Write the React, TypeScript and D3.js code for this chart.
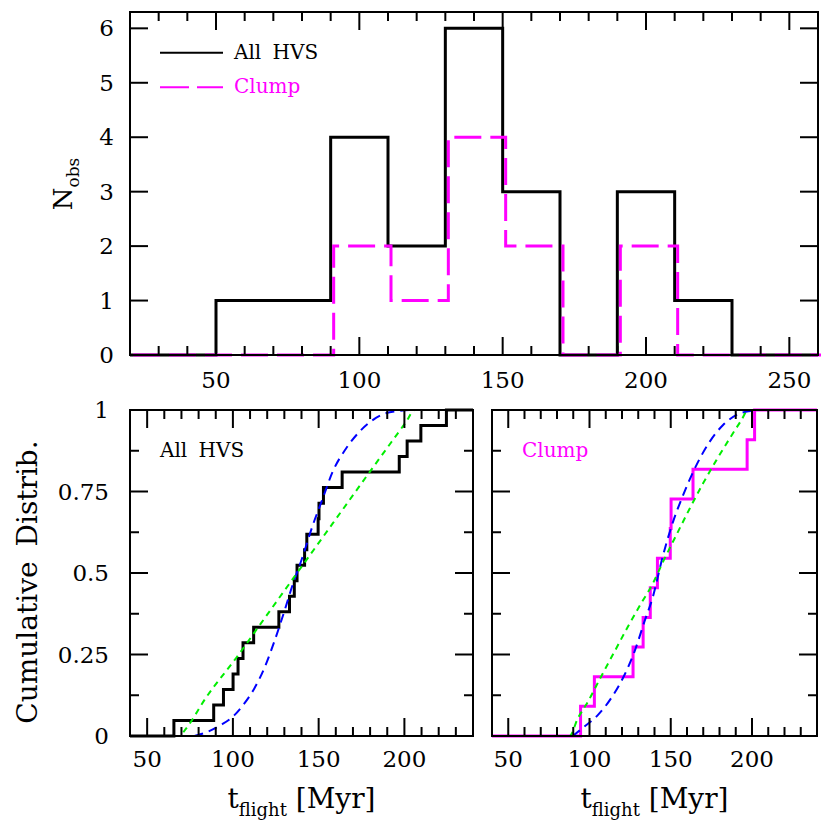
import React from 'react';
import * as d3 from 'd3';

// ---------- data ----------
const histEdges = [50, 70, 90, 110, 130, 150, 170, 190, 210, 230];
const histAll = [1, 1, 4, 2, 6, 3, 0, 3, 1];
const histClump = [0, 0, 2, 1, 4, 2, 0, 2, 0];

const tflightAll = [65.6, 88.8, 94.5, 100.1, 103, 105.9, 112.1, 126.8, 133, 135.8, 137.4,
  141.8, 143.1, 149.7, 150.2, 152.8, 163.7, 197, 201.6, 209.6, 224.5];
const tflightClump = [94.5, 103, 126.8, 133, 137.4, 141.8, 149.7, 150.2, 163.7, 197, 201.6];

const blueAllX = [77.6, 85.3, 93.1, 100.9, 106.7, 112.5, 118.3, 124.1, 129.9, 134.8, 140.2, 146.6, 152.4, 158.2, 166, 173.7, 181.5, 189.2, 197, 204.7, 240];
const blueAllY = [0, 0.013, 0.034, 0.064, 0.1, 0.146, 0.208, 0.289, 0.381, 0.463, 0.543, 0.647, 0.729, 0.811, 0.882, 0.933, 0.969, 0.99, 0.997, 1, 1];
const greenAllX = [40, 69, 72, 84.6, 102, 115.6, 137, 158.2, 179.5, 200.9, 206, 240];
const greenAllY = [0, 0, 0.018, 0.12, 0.24, 0.34, 0.497, 0.652, 0.808, 0.963, 1, 1];

const blueClumpX = [89.7, 96.9, 105.1, 113.3, 121.5, 127.7, 133.8, 139, 145.3, 151.4, 157.6, 165.8, 174, 182.2, 190.5, 198.6, 202, 240];
const blueClumpY = [0, 0.029, 0.064, 0.116, 0.187, 0.259, 0.351, 0.427, 0.555, 0.657, 0.739, 0.831, 0.903, 0.954, 0.985, 0.997, 1, 1];
const greenClumpX = [40, 87.7, 92.8, 99, 107.1, 115.4, 123.6, 131.8, 139, 145.3, 153.5, 161.7, 169.9, 178.2, 186.3, 193.5, 197.6, 240];
const greenClumpY = [0, 0, 0.054, 0.105, 0.182, 0.259, 0.335, 0.407, 0.468, 0.535, 0.617, 0.698, 0.775, 0.847, 0.913, 0.969, 1, 1];

const histXTicks = [50, 100, 150, 200, 250];
const histYTicks = [0, 1, 2, 3, 4, 5, 6];
const cdfXTicks = [50, 100, 150, 200];
const cdfYTicks = [0, 0.25, 0.5, 0.75, 1];
const cdfYTickLabels = ['0', '0.25', '0.5', '0.75', '1'];

const FONT = "'DejaVu Serif', serif";
const MAGENTA = '#ff00ff';
const BLUE = '#0000ff';
const GREEN = '#00ee00';

type Scale = d3.ScaleLinear<number, number>;

function Frame({ x, y, xMinor, xMajor, yMinor, yMajor }:
  { x: Scale; y: Scale; xMinor: number[]; xMajor: number[]; yMinor: number[]; yMajor: number[] }) {
  const [x0, x1] = x.range();
  const [yb, yt] = y.range();
  const els: any[] = [];
  xMinor.forEach((v, i) => {
    const len = xMajor.some(m => Math.abs(m - v) < 1e-9) ? 18 : 9;
    const p = x(v);
    els.push(<line key={'xb' + i} x1={p} x2={p} y1={yb} y2={yb - len} />);
    els.push(<line key={'xt' + i} x1={p} x2={p} y1={yt} y2={yt + len} />);
  });
  yMinor.forEach((v, i) => {
    const len = yMajor.some(m => Math.abs(m - v) < 1e-9) ? 18 : 9;
    const p = y(v);
    els.push(<line key={'yl' + i} x1={x0} x2={x0 + len} y1={p} y2={p} />);
    els.push(<line key={'yr' + i} x1={x1} x2={x1 - len} y1={p} y2={p} />);
  });
  return (
    <g stroke="#000" strokeWidth={2} fill="none">
      {els}
      <rect x={x0} y={yt} width={x1 - x0} height={yb - yt} />
    </g>
  );
}

function stepPoints(edges: number[], counts: number[], lo: number, hi: number): [number, number][] {
  const pts: [number, number][] = [[lo, 0]];
  counts.forEach((c, i) => pts.push([edges[i], c]));
  pts.push([edges[edges.length - 1], 0]);
  pts.push([hi, 0]);
  return pts;
}

function cdfPoints(vals: number[], lo: number, hi: number): [number, number][] {
  const n = vals.length;
  const pts: [number, number][] = [[lo, 0]];
  vals.forEach((v, i) => pts.push([v, (i + 1) / n]));
  pts.push([hi, 1]);
  return pts;
}

function CdfPanel({ x, y, vals, stepColor, blueX, blueY, greenX, greenY, label, labelColor, showY }:
  any) {
  const step = d3.line<[number, number]>().x(d => x(d[0])).y(d => y(d[1])).curve(d3.curveStepAfter);
  const smooth = d3.line<[number, number]>().x(d => x(d[0])).y(d => y(d[1])).curve(d3.curveMonotoneX);
  const bluePts = blueX.map((v: number, i: number) => [v, blueY[i]] as [number, number]);
  const greenPts = greenX.map((v: number, i: number) => [v, greenY[i]] as [number, number]);
  const [x0, x1] = x.range();
  return (
    <g>
      <path d={step(cdfPoints(vals, 40, 240)) || ''} fill="none" stroke={stepColor} strokeWidth={3} />
      <path d={smooth(bluePts) || ''} fill="none" stroke={BLUE} strokeWidth={2} strokeDasharray="9 6" />
      <path d={smooth(greenPts) || ''} fill="none" stroke={GREEN} strokeWidth={2} strokeDasharray="6 5" />
      <Frame x={x} y={y} xMinor={d3.range(40, 240.1, 10)} xMajor={cdfXTicks}
        yMinor={d3.range(0, 1.0001, 0.125)} yMajor={cdfYTicks} />
      {cdfXTicks.map(t => (
        <text key={'xl' + t} x={x(t)} y={767} textAnchor="middle" fontSize={23} fontFamily={FONT}>{t}</text>
      ))}
      {showY && cdfYTicks.map((t, i) => (
        <text key={'yl' + t} x={109} y={y(t) + 8} textAnchor="end" fontSize={23} fontFamily={FONT}>{cdfYTickLabels[i]}</text>
      ))}
      <text x={x0 + 30} y={457} fontSize={20} fontFamily={FONT} fill={labelColor} wordSpacing={5}>{label}</text>
      <text x={(x0 + x1) / 2} y={808} textAnchor="middle" fontSize={28} fontFamily={FONT}>
        t<tspan fontSize={18} dy={8}>flight</tspan><tspan dy={-8}> [Myr]</tspan>
      </text>
    </g>
  );
}

export default function App() {
  const xTop = d3.scaleLinear().domain([20, 260]).range([130, 818]);
  const yTop = d3.scaleLinear().domain([0, 6.3]).range([355, 12]);
  const xL = d3.scaleLinear().domain([40, 240]).range([130, 473]);
  const xR = d3.scaleLinear().domain([40, 240]).range([492, 817]);
  const yB = d3.scaleLinear().domain([0, 1]).range([736, 410]);

  const hist = d3.line<[number, number]>().x(d => xTop(d[0])).y(d => yTop(d[1])).curve(d3.curveStepAfter);

  return (
    <svg width={830} height={829} style={{ position: 'absolute', left: 0, top: 0, background: '#fff' }}>
      <rect width={830} height={829} fill="#fff" />
      {/* Top histogram */}
      <path d={hist(stepPoints(histEdges, histAll, 20, 260)) || ''} fill="none" stroke="#000" strokeWidth={3} />
      <path d={hist(stepPoints(histEdges, histClump, 20, 260)) || ''} fill="none" stroke={MAGENTA} strokeWidth={3}
        strokeDasharray="27 9" transform="translate(3,0)" />
      <Frame x={xTop} y={yTop} xMinor={d3.range(20, 260.1, 10)} xMajor={histXTicks}
        yMinor={histYTicks} yMajor={histYTicks} />
      {histXTicks.map(t => (
        <text key={'hx' + t} x={xTop(t)} y={388} textAnchor="middle" fontSize={23} fontFamily={FONT}>{t}</text>
      ))}
      {histYTicks.map(t => (
        <text key={'hy' + t} x={114} y={yTop(t) + 8} textAnchor="end" fontSize={23} fontFamily={FONT}>{t}</text>
      ))}
      {/* legend */}
      <line x1={160} x2={223} y1={52.7} y2={52.7} stroke="#000" strokeWidth={2} />
      <text x={234} y={58.5} fontSize={20} fontFamily={FONT} wordSpacing={5}>All HVS</text>
      <line x1={160} x2={223} y1={87.3} y2={87.3} stroke={MAGENTA} strokeWidth={2} strokeDasharray="29 8" />
      <text x={234} y={92.7} fontSize={20} fontFamily={FONT} fill={MAGENTA}>Clump</text>
      <text transform="translate(72,184) rotate(-90)" textAnchor="middle" fontSize={26} fontFamily={FONT}>
        N<tspan fontSize={17} dy={7}>obs</tspan>
      </text>

      {/* bottom panels */}
      <CdfPanel x={xL} y={yB} vals={tflightAll} stepColor="#000" blueX={blueAllX} blueY={blueAllY}
        greenX={greenAllX} greenY={greenAllY} label="All HVS" labelColor="#000" showY={true} />
      <CdfPanel x={xR} y={yB} vals={tflightClump} stepColor={MAGENTA} blueX={blueClumpX} blueY={blueClumpY}
        greenX={greenClumpX} greenY={greenClumpY} label="Clump" labelColor={MAGENTA} showY={false} />
      <text transform="translate(37,582) rotate(-90)" textAnchor="middle" fontSize={28} fontFamily={FONT} wordSpacing={6}>
        Cumulative Distrib.
      </text>
    </svg>
  );
}
